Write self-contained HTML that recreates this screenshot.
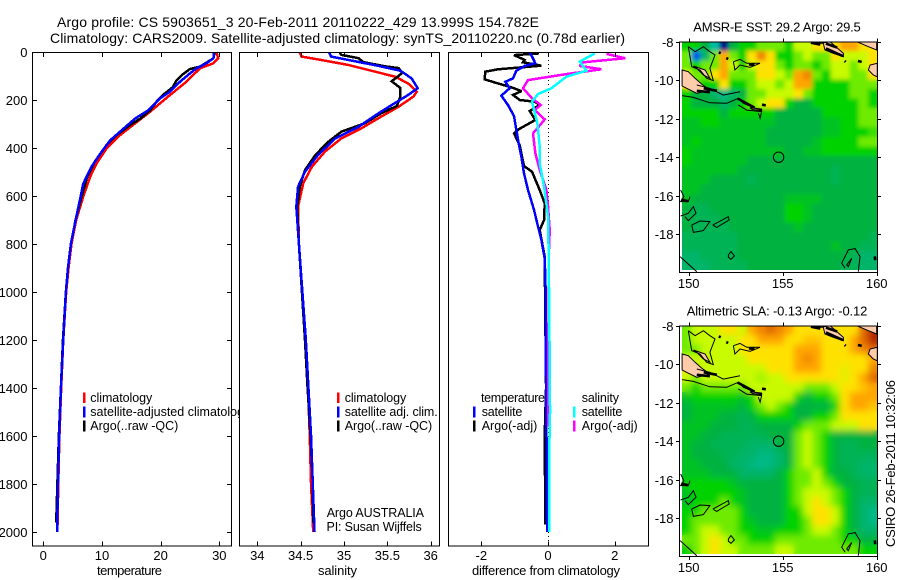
<!DOCTYPE html>
<html>
<head>
<meta charset="utf-8">
<title>Argo profile</title>
<style>
html,body{margin:0;padding:0;background:#fff;}
svg{display:block;}
text{font-family:"Liberation Sans",sans-serif;fill:#000;font-size:13px;}
.title{font-size:14px;}
.leg{font-size:12.5px;}
</style>
</head>
<body>
<svg id="chart" xmlns="http://www.w3.org/2000/svg" width="900" height="580" viewBox="0 0 900 580">
<defs>
<filter id="blurSst" x="-5%" y="-5%" width="110%" height="110%"><feGaussianBlur stdDeviation="2"/></filter>
<filter id="blurSla" x="-5%" y="-5%" width="110%" height="110%"><feGaussianBlur stdDeviation="3.5"/></filter>
</defs>
<rect width="900" height="580" fill="#fff"/>
<text class="title" x="57" y="27" textLength="482" lengthAdjust="spacing">Argo profile: CS 5903651_3 20-Feb-2011 20110222_429 13.999S 154.782E</text>
<text class="title" x="50" y="43" textLength="575" lengthAdjust="spacing">Climatology: CARS2009. Satellite-adjusted climatology: synTS_20110220.nc (0.78d earlier)</text>
<g id="layer"></g>
<text transform="translate(895,547) rotate(-90)" textLength="167" lengthAdjust="spacing">CSIRO 26-Feb-2011 10:32:06</text>
</svg>
<script>
// ---------- profile data (depth in dbar) ----------
const yTicks = [0,200,400,600,800,1000,1200,1400,1600,1800,2000];
const tempTicks = [0,10,20,30];
const salTicks = [34,34.5,35,35.5,36];
const salTickLabels = ['34','34.5','35','35.5','36'];
const diffTicks = [-2,0,2];

const tempClimDepth = [0,26,47,68,124,179,249,304,346,401,464,519,603,700,800,900,1000,1200,1400,1600,1800,2000];
const tempClim = [29.5,29.8,29.0,26.7,24.4,21.6,18.2,15.3,13.1,10.8,9.1,8.0,6.8,5.6,4.8,4.3,3.9,3.4,3.05,2.75,2.55,2.4];
const tempArgoDepth = [0,26,40,61,71,96,118,146,179,207,243,278,304,346,387,456,519,603,700,800,900,1000,1200,1400,1600,1800,1960];
const tempArgo = [29.2,29.0,28.1,26.7,25.0,23.6,22.7,22.1,20.4,19.3,18.2,16.5,14.8,12.5,10.8,8.8,7.5,6.5,5.5,4.7,4.2,3.85,3.35,3.0,2.65,2.4,2.2];
const tempSatDepth = [0,26,47,68,89,124,165,193,243,278,319,368,424,479,549,610,700,800,900,1000,1200,1400,1600,1800,2000];
const tempSat = [29.1,29.0,27.8,26.1,25.0,23.3,21.6,19.9,17.9,15.6,13.7,11.4,9.7,8.2,6.8,6.3,5.5,4.7,4.2,3.85,3.4,3.0,2.7,2.5,2.35];

const salClimDepth = [3,19,36,54,82,103,131,165,186,228,269,318,360,415,478,547,644,800,1000,1200,1400,1600,1800,2000];
const salClim = [34.49,34.51,34.78,35.05,35.36,35.59,35.74,35.84,35.80,35.63,35.43,35.20,34.97,34.78,34.63,34.53,34.47,34.48,34.52,34.555,34.585,34.605,34.62,34.645];
const salArgoDepth = [3,12,26,42,60,67,88,122,150,186,225,255,297,332,374,429,492,561,644,800,1000,1200,1400,1600,1800,1960];
const salArgo = [34.95,34.97,35.17,35.22,35.48,35.63,35.67,35.55,35.65,35.65,35.61,35.43,35.24,34.97,34.82,34.67,34.55,34.49,34.46,34.48,34.515,34.55,34.58,34.615,34.64,34.645];
const salSatDepth = [3,19,36,58,78,110,151,179,221,255,311,360,429,499,561,644,800,1000,1200,1400,1600,1800,2000];
const salSat = [34.83,34.85,35.09,35.40,35.65,35.78,35.85,35.74,35.55,35.40,35.17,34.90,34.70,34.55,34.47,34.45,34.48,34.52,34.56,34.59,34.62,34.64,34.66];

const diffTSatDepth = [3,19,47,58,78,110,124,151,182,221,267,325,381,436,506,575,658,728,783,860,1000,1400,1700,2000];
const diffTSat = [-0.55,-0.48,-0.38,-0.70,-0.95,-1.05,-1.28,-1.15,-1.40,-1.20,-1.02,-0.95,-0.88,-0.80,-0.72,-0.60,-0.42,-0.30,-0.20,-0.10,-0.07,-0.06,-0.04,-0.03];
const diffTArgoDepth = [6,13,33,43,57,72,82,114,131,147,163,179,200,207,221,246,283,322,339,388,436,475,499,575,631,700,742,853,1000,1400,1600,1968];
const diffTArgo = [-0.27,-1.02,-0.70,-0.75,-0.20,-1.50,-1.88,-1.90,-1.50,-1.10,-0.80,-1.05,-0.85,-0.40,-0.25,-0.55,-0.38,-0.88,-1.02,-0.85,-0.78,-0.72,-0.48,-0.25,-0.10,-0.12,-0.25,-0.10,-0.09,-0.06,-0.10,-0.08];
const diffSSatDepth = [6,40,78,103,151,175,207,297,394,464,561,686,853,1000,1300,1500,1700,2000];
const diffSSat = [1.40,0.95,1.15,0.55,0.10,-0.30,-0.48,-0.32,-0.25,-0.25,-0.12,0,0.02,0.03,0.05,0.06,0.03,0.03];
const diffSArgoDepth = [8,26,43,58,72,92,117,151,193,221,242,281,339,422,492,575,644,742,853,1000,1400,1560];
const diffSArgo = [1.75,2.31,1.05,0.95,1.60,0.55,-0.60,-0.75,-0.48,-0.22,-0.40,-0.10,-0.45,-0.38,-0.25,-0.05,0,0.05,0.02,0.02,0,0];

// ---------- map data: colour-scale levels per 0.5 degree cell, north to south ----------
const lonTicks = [150,155,160];
const latTicks = [8,10,12,14,16,18];
const sstGrid = [
[5,5,4,2,0,4,5,5,6,6,6,5,7,7,8,8,8,9,9,8,8],
[6,1,3,6,9,6,5,8,9.5,8,5,5,6,7,6,6,8,7,7,7,8],
[6,5,6,6,9,7,5,7,8,8,6,5,6,6,5,6,7,7,6,7,8],
[7,6,6,8,9,6,6,6,8,8,7,6,9,9.5,6,5,7,7,6,6,8],
[8,6,5,5,8,5,5,6,7,7,6,7,9,9,5,5,5,5,6,6,6],
[5,4,4,3,2.5,3,4,6,6,7,7,7,8,6,5,5,5,5,6,6,5],
[5,4,4,4,3,4,5,6,7,8,8,5,4,4,5,5,5,5,5,6,5],
[5,5,5,5,4,5,5,5,5,5,4,4,4,4,4,5,5,5,5,6,6],
[4.5,4.5,5,5,4.5,4.5,4.5,4.5,4.5,4.5,4,4,4,4,4,4.5,4.5,5,5,6,6],
[4.5,4.5,4.5,4.5,4.5,4.5,4.5,4.5,4.5,4,4,4,4,4,4,4.5,4.5,5,5,5,5.5],
[4.5,5,4.5,4.5,4.5,4.5,4.5,4.5,4.5,4,4,4,4,4,4.5,5,5,5,5,6,6],
[5,4.5,4.5,4.5,4.5,4.5,4.5,4.5,4.5,4.5,4.5,4,4,4.5,4.5,5,5,5,5,5,5],
[5,4.5,4.5,4.5,4.5,4.5,4.5,4,4,4,4,4,4,4,4,4,4,4,4,4,4],
[4.5,4.5,4.5,4.5,4.5,4.5,4,4,4,4,4,4,4,4,4,4,3.5,4,4,4,4],
[4.5,4.5,4.5,4,4,4,4,3.5,4,4,4,4,4,4,4,4,3.5,4,4,4,4],
[4.5,4.5,4,4,4,4,4,4,4,4,4,4,4,4,4,4,4,4,4,4,4],
[4.5,4,4,4,4,4,4,4,4,4,4,4.5,4.5,4.5,4.5,4,4,4,4,4,4],
[4,3.5,3.5,4,4,4,4,4,4,4,4,5,5,4.5,4,4,4,4,4,4,4],
[4,3.5,3.5,3.5,4,4,4,4,4,4,4,5,5,4.5,4,4,4,4,4,4,4],
[4,3.5,3.5,3.5,3.5,4,4,4,4,4,4,4,4.5,4,4,4,4,4,4,4,4],
[3.5,3.5,3.5,3.5,3.5,3.5,4,4,4,4,4,4,4,4,4,4,4,4,4,4,3.5],
[3.5,3.5,3.5,3.5,3.5,3.5,4,4,4,4,4,4,4,4,4,4,4.5,4,4,3.5,3.5],
[3,3,3.5,3.5,3.5,3.5,4,4,4,4,4,4,4,4,4,4,4,4,3.5,3,3],
[3,3,3,3.5,3.5,3.5,3.5,4,4,4,4,4,4,4,4,4,4,3.5,3.5,3,3]
];
const slaGrid = [
[6,7,7,7,8,8,7,9,9.5,10,9.5,9,8,8,8,8,8,8,8,10,11],
[6,7,7,7,7,7,8,8,9,9,9,8,8,8.5,8.5,8,8,8,9,10,11],
[6,6,7,7,7,7,8,8,8,8,8,8,9,9,9,8,8,8,9,9.5,10],
[7,7,7,7,7,7,7,8,8,8,8,8,9,9.5,9,8,8,8,8,8,9],
[8,7,7,7,7,7,7,7,7,8,8,8,9,9,9,8,8,7.5,8,8,9.5],
[7,6,7,7,7,7,7,7,6.5,7,7,8,8,8,8,8,8,7.5,8,9,10],
[6,5,6,6,6,6,6,7,7,7,7,7,7,6,6,6,7,8,8,8.5,9],
[4.5,5,5,5,5,5,4.5,5,7,7,7,7,5,4,5,5,6,8,9,9,9],
[4,4.5,4.5,4.5,4.5,4.5,4,5,6,7,6,5,4,4,4,4,5,8,9,9,8.5],
[4,4.5,4.5,4.5,4,4,3.5,4,5,5,5,5,4,4,5,5,6,8,8,8,8],
[4.5,4.5,4.5,4,4,4,3.5,3.5,4,4,4,4,5,6,6,6,7,7,7,8,8],
[4.5,4.5,4,4,3.5,3.5,3.5,3.5,3.5,4,4,4,6,7,6,5,4,4,4,4,4],
[4.5,4,4,3.5,3.5,3.5,3.5,3,3,3,4,4,6,7,6,5,4,3.5,3.5,4,4],
[4.5,4,4,4,3.5,3.5,3,3,2.6,2.6,3,4,6,7,6,5,4,3.5,3.5,3.5,3.5],
[4.5,4.5,4,4,4,3,3,2.6,2.4,2.6,3,4,6,7,6,5,4,3.5,3.5,3,3],
[4.5,4.5,4.5,4,4,4,3,3,3,3,4,5,6,6,7,5,4,4,3.5,3,3],
[5,5,5,5,5,4.5,4,4,4,4,4,5,6,6,7,6,5,4,4,3.5,3.5],
[4.5,5,5,5,5,5,4.5,4,4,4,4,5,6,7,7,7,6,5,4,3.5,3.5],
[4.5,5,5,5,6,5,4.5,4,4,4,4,5,6,7,8,7,6,5,4,3,3],
[5,5,6,6,6,6,5,4,4,4,4,5,5,7,8,8,7,5,4,3,2.5],
[5,6,6,6,6,6,5,4.5,4,4,4,5,5,6,8,8,7,5,4,3,2.5],
[5,6,7,7,6,6,5,5,4.5,4.5,5,5,5,6,7,7,6,5,4,3,3],
[6,6,7,8,7,6,6,5,5,5,6,6,6,6,6,6,6,5,5,4,4],
[5,6,7,8,7,7,6,6,6,6,7,7,6,6,6,6,6,6,6,5,5]
];
const floatLon = 154.782;
const floatLat = 13.999;
// coastlines as [lon, south latitude] pairs
const landFilled = [
[[149.65,9.47],[149.98,9.56],[150.34,9.9],[150.69,10.2],[151.13,10.51],[150.43,10.68],[149.89,10.42],[149.65,10.3]],
[[150.25,9.26],[150.87,9.47],[151.13,9.9],[150.78,9.73],[150.43,9.38]],
[[153.26,11.43],[153.88,11.5],[153.88,11.58],[153.4,11.52]],
[[156.45,8],[156.99,8.09],[157.52,8],[158.23,8.61],[158.23,8.78],[157.7,8.61],[157.25,8.43],[157.16,8.09]],
[[158.94,8],[160,8],[160,8.43],[159.56,8.26]],
[[160.03,9.12],[159.65,9.21],[159.56,9.47],[159.82,9.73],[160.03,9.82]]
];
const coastLines = [
[[149.98,8.26],[150.34,8.52],[150.78,8.26],[151.13,8.52],[151.4,8.69],[151.13,9.38],[151.31,10.02],[150.96,9.9],[150.6,9.47],[150.16,9.3],[150.07,8.78],[149.98,8.26]],
[[152.38,9.04],[152.73,8.92],[153.09,9.12],[153.79,9.12],[153.26,9.33],[152.73,9.21],[152.46,9.47],[152.38,9.04]],
[[149.65,10.8],[150.25,10.89],[151.13,11.17],[152.02,11.2],[152.64,10.94],[152.91,11.2],[153.53,11.46],[153.88,11.55]],
[[150.43,10.25],[151.13,10.42],[151.84,10.77],[152.73,10.6]],
[[152.64,11.28],[153.08,11.55],[153.88,11.63],[153.8,11.97],[153.7,11.7]],
[[149.57,15.7],[149.75,16.05],[149.57,16.3],[149.98,16.3],[150.07,16.04]],
[[149.57,17.05],[149.98,16.91],[150.25,16.56],[150.39,16.91],[149.98,17.29],[149.8,17.08]],
[[150.16,17.52],[150.6,17.31],[151.13,17.34],[150.78,17.81],[150.25,17.9],[150.16,17.52]],
[[151.28,17.52],[152.11,17.08],[152.15,17.26],[151.49,17.64],[151.28,17.52]],
[[152.11,19.07],[152.25,18.9],[152.43,19.12],[152.25,19.3],[152.11,19.19],[152.11,19.07]],
[[149.54,19.16],[150.43,19.94]],
[[158.32,19.76],[158.14,19.5],[158.49,18.81],[158.85,18.74],[159.11,19.16],[159.02,19.94]],
[[158.4,19.59],[158.67,19.25],[158.49,19.68],[158.4,19.59]]
];
const coastThick = [
[[150.43,10.55],[151.13,10.62]],
[[150.8,10.42],[151.5,10.55]],
[[152.6,10.95],[153.5,11.42]],
[[153.9,11.27],[154.1,11.3]],
[[156.5,8.05],[157,8.15]],
[[157.3,8.35],[158.2,8.75]],
[[157.3,8.1],[157.9,8.3]],
[[159,9.0],[159.2,9.05]],
[[151.6,8.55],[151.7,8.6]],
[[152,8.85],[152.1,8.9]],
[[153.2,9.18],[153.5,9.2]],
[[158.3,9.0],[158.35,9.05]],
[[149.6,16.2],[149.95,16.28]],
[[159.9,19.15],[159.92,19.35]]
];
const paletteStops = [[0,0,140],[0,90,230],[0,190,160],[0,180,105],[0,178,65],[0,210,0],[110,235,0],[200,250,0],[255,225,0],[255,165,0],[225,105,0],[180,40,0]];

// ---------- helpers ----------
const NS = 'http://www.w3.org/2000/svg';
const layer = document.getElementById('layer');
function mk(tag, attrs, parent){
  const el = document.createElementNS(NS, tag);
  for (const k in attrs) el.setAttribute(k, attrs[k]);
  (parent || layer).appendChild(el);
  return el;
}
function linear(d0,d1,r0,r1){ return v => r0 + (v-d0)*(r1-r0)/(d1-d0); }
const yDepth = linear(0,2000,52,532);
const PBOX = {top:52,bottom:545.5};

function txt(str,x,y,anchor,len,cls,parent,name){
  const el = mk('text',{x:x,y:y},parent);
  if(anchor) el.setAttribute('text-anchor',anchor);
  if(len){ el.setAttribute('textLength',len); el.setAttribute('lengthAdjust','spacing'); }
  if(cls) el.setAttribute('class',cls);
  el.textContent = str;
  
  
  return el;
}
function tick(x1,y1,x2,y2,parent){
  const el = mk('line',{x1:x1,y1:y1,x2:x2,y2:y2,stroke:'#000','stroke-width':1,'shape-rendering':'crispEdges'},parent);
  
  
}
function panel(name,left,right){
  const g = mk('g',{});
  
  
  const bg = mk('rect',{x:left,y:PBOX.top,width:right-left,height:PBOX.bottom-PBOX.top,fill:'#fff'},g);
  
  
  return g;
}
function frame(g,left,right,top,bottom){
  const r = mk('rect',{x:left+.5,y:top+.5,width:right-left,height:bottom-top,fill:'none',stroke:'#000','stroke-width':1,'shape-rendering':'crispEdges'},g);
  
  
}
function series(g,name,depths,values,xf,color,w){
  const pts = values.map((v,i)=>xf(v).toFixed(2)+','+yDepth(depths[i]).toFixed(2)).join(' ');
  const p = mk('polyline',{points:pts,fill:'none',stroke:color,'stroke-width':w||2.5,'stroke-linejoin':'miter','stroke-miterlimit':2,'shape-rendering':'crispEdges'},g);
  
  
}
function legendBar(g,x,y,h,color){
  const r = mk('rect',{x:x,y:y,width:2.6,height:h,fill:color,'shape-rendering':'crispEdges'},g);
  
  
}
function xTicksFor(g,left,right,xf,ticks,labels){
  ticks.forEach((t,i)=>{
    const x = Math.round(xf(t));
    tick(x+.5,PBOX.top+1,x+.5,PBOX.top+5,g);
    tick(x+.5,PBOX.bottom-4,x+.5,PBOX.bottom,g);
    txt(labels[i],xf(t),560,'middle',null,null,g,'x-tick-label');
  });
}

// ---------- temperature panel ----------
{
  const L=32,R=231;
  const xT = linear(0,30,43.3,219.3);
  const g = panel('temperature-panel',L,R);
  series(g,'temperature-climatology-line',tempClimDepth,tempClim,xT,'#f00');
  series(g,'temperature-argo-line',tempArgoDepth,tempArgo,xT,'#000');
  series(g,'temperature-satellite-line',tempSatDepth,tempSat,xT,'#00f');
  frame(g,L,R,PBOX.top,PBOX.bottom);
  xTicksFor(g,L,R,xT,tempTicks,tempTicks.map(String));
  yTicks.forEach(d=>{
    const y = Math.round(yDepth(d));
    tick(L+1,y+.5,L+5,y+.5,g);
    tick(R-4,y+.5,R,y+.5,g);
    txt(String(d),27.5,y+5,'end',null,null,g,'y-tick-label');
  });
  txt('temperature',97,575,null,65,null,g,'x-axis-title-temperature');
  legendBar(g,83,392.7,10.5,'#f00');
  legendBar(g,83,406.7,11,'#00f');
  legendBar(g,83,420.7,11,'#000');
  txt('climatology',90.3,402,null,62,'leg',g,'legend-climatology');
  txt('satellite-adjusted climatology',90.3,416,null,160,'leg',g,'legend-satellite-adjusted');
  txt('Argo(..raw -QC)',90.3,430,null,88,'leg',g,'legend-argo');
}
// ---------- salinity panel ----------
{
  const L=239,R=439;
  const xS = linear(34,36,257.3,430.7);
  const g = panel('salinity-panel',L,R);
  series(g,'salinity-climatology-line',salClimDepth,salClim,xS,'#f00');
  series(g,'salinity-argo-line',salArgoDepth,salArgo,xS,'#000');
  series(g,'salinity-satellite-line',salSatDepth,salSat,xS,'#00f');
  frame(g,L,R,PBOX.top,PBOX.bottom);
  xTicksFor(g,L,R,xS,salTicks,salTickLabels);
  txt('salinity',318,575,null,39,null,g,'x-axis-title-salinity');
  legendBar(g,337,392.7,10.5,'#f00');
  legendBar(g,337,406.7,11,'#00f');
  legendBar(g,337,420.7,11,'#000');
  txt('climatology',344.7,402,null,61.5,'leg',g,'legend-climatology');
  txt('satellite adj. clim.',344.7,416,null,93,'leg',g,'legend-satellite-adj');
  txt('Argo(..raw -QC)',344.7,430,null,87.5,'leg',g,'legend-argo');
  txt('Argo AUSTRALIA',326.7,517,null,97.3,'leg',g,'float-owner-label');
  txt('PI: Susan Wijffels',326.5,531,null,95.2,'leg',g,'principal-investigator-label');
}
// ---------- difference panel ----------
{
  const L=448,R=648;
  const xD = linear(-2,2,481.3,614.8);
  const g = panel('difference-panel',L,R);
  const zero = mk('line',{x1:xD(0)+.5,y1:PBOX.top,x2:xD(0)+.5,y2:PBOX.bottom,stroke:'#000','stroke-width':1,'stroke-dasharray':'1 3','shape-rendering':'crispEdges'},g);
  
  
  series(g,'difference-temperature-argo-line',diffTArgoDepth,diffTArgo,xD,'#000');
  series(g,'difference-temperature-satellite-line',diffTSatDepth,diffTSat,xD,'#00f');
  series(g,'difference-salinity-argo-line',diffSArgoDepth,diffSArgo,xD,'#f0f');
  series(g,'difference-salinity-satellite-line',diffSSatDepth,diffSSat,xD,'#0ff');
  frame(g,L,R,PBOX.top,PBOX.bottom);
  xTicksFor(g,L,R,xD,diffTicks,diffTicks.map(String));
  txt('difference from climatology',472,575,null,148,null,g,'x-axis-title-difference');
  legendBar(g,473,406.7,11,'#00f');
  legendBar(g,473,420.7,11,'#000');
  legendBar(g,573,406.7,11,'#0ff');
  legendBar(g,573,420.7,11,'#f0f');
  txt('temperature',481,402,null,64,'leg',g,'legend-temperature-heading');
  txt('satellite',481.7,416,null,40.6,'leg',g,'legend-temperature-satellite');
  txt('Argo(-adj)',481.7,430,null,55.6,'leg',g,'legend-temperature-argo');
  txt('salinity',581.7,402,null,37.3,'leg',g,'legend-salinity-heading');
  txt('satellite',581.7,416,null,40.6,'leg',g,'legend-salinity-satellite');
  txt('Argo(-adj)',581.7,430,null,56,'leg',g,'legend-salinity-argo');
}
// ---------- maps ----------
function levelColor(v){
  const i = Math.min(Math.floor(v),paletteStops.length-2), f = v-i;
  const a = paletteStops[i], b = paletteStops[i+1];
  return 'rgb('+a.map((c,k)=>Math.round(c+(b[k]-c)*f)).join(',')+')';
}
let mapCount = 0;
function drawMap(name,grid,top,title,tx,tlen,tb,blurId){
  mapCount++;
  const L=679,R=877,imgL=682,H=230.5;
  const xLon = linear(150,160,688.7,876.7);
  const yLat = linear(8,18,top,top+192.6);
  const g = mk('g',{});
  
  
  const clipId = 'mapclip'+mapCount;
  const cp = mk('clipPath',{id:clipId},g);
  mk('rect',{x:L,y:top,width:R-L,height:H},cp);
  const imgClipId = 'mapimgclip'+mapCount;
  const cp2 = mk('clipPath',{id:imgClipId},g);
  const rows = grid.length, cols = grid[0].length;
  const lon0 = 149.65, dLon = (160.03-lon0)/cols, lat0 = 8, dLat = 0.4935;
  mk('rect',{x:imgL,y:top,width:R-imgL,height:(yLat(lat0+rows*dLat)-top).toFixed(2)},cp2);
  const cellsId = 'mapcells'+mapCount;
  const cells = mk('g',{id:cellsId,'shape-rendering':'crispEdges'},g);
  
  
  grid.forEach((row,r)=>row.forEach((v,c)=>{
    const x0 = xLon(lon0+c*dLon), x1 = xLon(lon0+(c+1)*dLon);
    const y0 = yLat(lat0+r*dLat), y1 = yLat(lat0+(r+1)*dLat);
    const cell = mk('rect',{x:x0.toFixed(2),y:y0.toFixed(2),width:(x1-x0+.4).toFixed(2),height:(y1-y0+.4).toFixed(2),fill:levelColor(v)},cells);
    
    
  }));
  // softened copy of the same cells, matching the finer native grid of the source map
  const softClip = mk('g',{'clip-path':'url(#'+imgClipId+')'},g);
  
  
  mk('use',{href:'#'+cellsId,filter:'url(#'+blurId+')'},softClip);
  const land = mk('g',{'clip-path':'url(#'+clipId+')'},g);
  
  
  const toPts = arr => arr.map(p=>xLon(p[0]).toFixed(1)+','+yLat(p[1]).toFixed(1)).join(' ');
  landFilled.forEach(a=>{
    const p = mk('polygon',{points:toPts(a),fill:'#ffccaa',stroke:'#000','stroke-width':1},land);
    
    
  });
  coastLines.forEach(a=>{
    const p = mk('polyline',{points:toPts(a),fill:'none',stroke:'#000','stroke-width':1},land);
    
    
  });
  coastThick.forEach(a=>{
    const p = mk('polyline',{points:toPts(a),fill:'none',stroke:'#000','stroke-width':2.6},land);
    
    
  });
  const marker = mk('circle',{cx:xLon(floatLon).toFixed(1),cy:yLat(floatLat).toFixed(1),r:5.2,fill:'none',stroke:'#000','stroke-width':1},g);
  
  
  frame(g,L,R,top,top+H);
  lonTicks.forEach(t=>{
    const x = Math.round(xLon(t));
    tick(x+.5,top+.5,x+.5,top-3,g);
    tick(x+.5,top+H,x+.5,top+H+4,g);
    txt(String(t),xLon(t),top+H+16,'middle',null,null,g,'map-longitude-label');
  });
  latTicks.forEach(t=>{
    const y = Math.round(yLat(t));
    tick(L-3,y+.5,L+.5,y+.5,g);
    tick(R,y+.5,R+4,y+.5,g);
    txt('-'+t,673.5,y+5,'end',null,null,g,'map-latitude-label');
  });
  txt(title,tx,tb,null,tlen,null,g,'map-title');
}
drawMap('sst-map',sstGrid,41.7,'AMSR-E SST: 29.2 Argo: 29.5',693.3,167.4,31.5,'blurSst');
drawMap('sla-map',slaGrid,325.7,'Altimetric SLA: -0.13 Argo: -0.12',686.7,180.6,315.5,'blurSla');
</script>
</body>
</html>
